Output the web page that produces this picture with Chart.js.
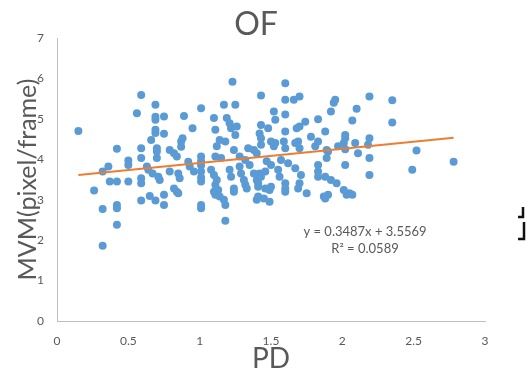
<!DOCTYPE html>
<html>
<head>
<meta charset="utf-8">
<script src="https://cdn.jsdelivr.net/npm/chart.js"></script>
<style>
  body { margin: 0; background: #fff; }
</style>
</head>
<body>
<canvas id="myChart" width="528" height="373"></canvas>
<script>
// PD (x) and MVM (y) for each sample
var pd = [
  0.15, 0.59, 0.69, 0.56, 0.69, 0.69, 0.75, 0.89, 1.01, 0.95,
  0.69, 0.69, 0.75, 0.66, 0.88, 0.87, 0.87, 0.42, 0.59, 0.70,
  0.70, 0.70, 0.79, 0.82, 0.84, 0.59, 0.50, 0.50, 0.36, 0.32,
  0.63, 0.64, 0.92, 0.93, 0.96, 1.01, 1.01, 1.01, 1.01, 1.01,
  1.01, 0.67, 0.71, 0.72, 0.79, 0.85, 0.86, 0.37, 0.42, 0.50,
  0.59, 0.59, 0.26, 0.82, 0.84, 0.65, 0.75, 0.59, 0.69, 0.75,
  0.32, 0.42, 0.42, 0.42, 0.32, 0.85, 1.01, 1.01, 1.23, 1.60,
  1.43, 1.60, 1.66, 1.70, 1.95, 1.94, 1.17, 1.25, 1.92, 1.52,
  1.60, 1.10, 1.19, 1.21, 1.22, 1.26, 1.25, 1.11, 1.43, 1.48,
  1.42, 1.53, 1.60, 1.68, 1.70, 1.74, 1.83, 1.88, 2.02, 2.01,
  1.78, 1.83, 1.81, 1.14, 1.18, 1.12, 1.24, 1.34, 1.38, 1.40,
  1.43, 1.43, 1.50, 1.52, 1.59, 1.60, 1.69, 1.70, 1.89, 1.89,
  1.97, 1.11, 1.15, 1.28, 1.32, 1.35, 1.47, 1.50, 1.57, 1.62,
  1.67, 1.83, 1.83, 1.83, 1.10, 1.12, 1.11, 1.21, 1.22, 1.28,
  1.29, 1.31, 1.38, 1.40, 1.46, 1.43, 1.55, 1.56, 1.60, 1.60,
  1.88, 1.92, 1.96, 2.02, 1.24, 1.41, 1.46, 1.50, 1.49, 1.75,
  2.01, 2.03, 1.11, 1.14, 1.41, 1.45, 1.10, 1.17, 1.18, 1.18,
  1.24, 1.40, 1.49, 1.60, 1.88, 1.90, 2.09, 2.11, 2.19, 2.18,
  2.19, 2.19, 1.71, 1.70, 1.69, 1.87, 2.05, 2.19, 2.35, 2.35,
  2.10, 2.07, 2.02, 2.02, 2.52, 2.49, 2.78, 2.07, 1.08, 1.32,
  1.33, 1.41, 1.13, 1.42, 1.53, 1.90, 1.67
];
var mvm = [
  4.70, 5.59, 5.35, 5.14, 5.05, 4.98, 5.06, 5.07, 5.26, 4.77,
  4.73, 4.65, 4.63, 4.48, 4.52, 4.44, 4.31, 4.26, 4.27, 4.27,
  4.19, 4.03, 4.23, 4.15, 4.07, 4.03, 3.97, 3.86, 3.82, 3.70,
  3.82, 3.74, 3.94, 3.82, 3.70, 4.07, 3.96, 3.85, 3.70, 3.55,
  3.45, 3.65, 3.57, 3.49, 3.70, 3.65, 3.53, 3.45, 3.45, 3.45,
  3.53, 3.41, 3.23, 3.28, 3.20, 3.09, 3.12, 2.98, 2.98, 2.87,
  2.77, 2.87, 2.79, 2.38, 1.86, 3.16, 2.87, 2.79, 5.92, 5.88,
  5.58, 5.47, 5.47, 5.55, 5.47, 5.40, 5.35, 5.35, 5.18, 5.18,
  5.11, 5.02, 5.02, 4.89, 4.77, 4.81, 4.60, 4.73, 4.85, 4.77,
  4.64, 4.98, 4.69, 4.77, 4.81, 4.93, 4.99, 4.69, 4.60, 4.40,
  4.56, 4.44, 4.32, 4.48, 4.44, 4.32, 4.23, 4.27, 4.23, 4.15,
  4.52, 4.36, 4.44, 4.32, 4.44, 4.27, 4.44, 4.27, 4.23, 4.03,
  4.32, 4.07, 4.03, 4.07, 3.98, 3.86, 3.95, 3.86, 3.98, 3.90,
  3.78, 3.86, 3.70, 3.57, 3.61, 3.49, 3.37, 3.74, 3.57, 3.82,
  3.65, 3.49, 3.65, 3.49, 3.70, 3.57, 3.74, 3.57, 3.41, 3.28,
  3.57, 3.49, 3.41, 3.86, 3.28, 3.32, 3.28, 3.32, 3.24, 3.16,
  3.24, 3.12, 3.12, 3.08, 3.08, 3.03, 3.20, 3.00, 2.87, 2.48,
  3.20, 3.00, 2.95, 3.20, 3.03, 3.12, 4.40, 4.15, 4.03, 4.36,
  4.52, 3.61, 3.61, 3.41, 3.28, 3.08, 3.16, 5.55, 5.46, 4.91,
  5.25, 4.96, 4.52, 4.25, 4.22, 3.74, 3.94, 3.12, 3.74, 3.37,
  3.28, 3.41, 3.24, 3.65, 4.40, 4.19, 4.40
];

// linear trendline, ends of the orange line
var trendPD = [0.15, 2.78];
var trendMVM = [3.61, 4.53];

var xTicks = [0, 0.5, 1, 1.5, 2, 2.5, 3];
var yTicks = [0, 1, 2, 3, 4, 5, 6, 7];

var chartTitle = 'OF';
var xTitle = 'PD';
var yTitle = 'MVM(pixel/frame)';
var equation = ['y = 0.3487x + 3.5569', 'R\u00B2 = 0.0589'];

var grey = '#595959';
var points = pd.map(function (x, i) { return { x: x, y: mvm[i] }; });
var trend = trendPD.map(function (x, i) { return { x: x, y: trendMVM[i] }; });

// title, trendline label and the small marks at the right edge
var extras = {
  id: 'extras',
  afterDraw: function (chart) {
    var ctx = chart.ctx;
    ctx.save();
    ctx.fillStyle = grey;
    ctx.textAlign = 'center';
    ctx.textBaseline = 'middle';
    ctx.font = '32px Lato';
    ctx.fillText(chartTitle, 256, 25);
    ctx.font = '13px Lato';
    ctx.fillText(equation[0], 365, 232);
    ctx.fillText(equation[1], 365, 249);

    ctx.strokeStyle = '#111';
    ctx.lineWidth = 2.5;
    ctx.beginPath();
    ctx.moveTo(523, 207); ctx.lineTo(523, 217); ctx.lineTo(518, 217);
    ctx.moveTo(524, 222); ctx.lineTo(524, 239); ctx.lineTo(518, 239);
    ctx.stroke();
    ctx.restore();
  }
};

const ctx = document.getElementById('myChart');

new Chart(ctx, {
  type: 'scatter',
  data: {
    datasets: [{
      label: 'Trend',
      type: 'line',
      data: trend,
      borderColor: '#ED7D31',
      borderWidth: 2,
      pointRadius: 0,
      fill: false,
      order: 0
    },
    {
      label: 'OF',
      data: points,
      backgroundColor: '#5B9BD5',
      pointRadius: 4,
      pointBorderWidth: 0,
      borderWidth: 0,
      order: 1
    }]
  },
  options: {
    responsive: false,
    devicePixelRatio: 1,
    animation: false,
    layout: { padding: { top: 38, right: 43, left: 0, bottom: 0 } },
    plugins: {
      legend: { display: false },
      tooltip: { enabled: false }
    },
    scales: {
      x: {
        type: 'linear',
        min: 0,
        max: 3,
        afterBuildTicks: function (s) { s.ticks = xTicks.map(function (v) { return { value: v }; }); },
        afterFit: function (s) { s.height = 52; },
        grid: { display: false, drawTicks: false },
        border: { display: true, color: '#BFBFBF', width: 1 },
        ticks: {
          color: grey,
          padding: 13,
          font: { family: 'Lato', size: 12 },
          callback: function (v) { return String(v); }
        },
        title: {
          display: true,
          text: xTitle,
          color: grey,
          padding: 0,
          font: { family: 'Lato', size: 28, lineHeight: 1 }
        }
      },
      y: {
        type: 'linear',
        min: 0,
        max: 7,
        afterBuildTicks: function (s) { s.ticks = yTicks.map(function (v) { return { value: v }; }); },
        afterFit: function (s) { s.width = 57; },
        grid: { display: false, drawTicks: false },
        border: { display: true, color: '#BFBFBF', width: 1 },
        ticks: {
          color: grey,
          padding: 13,
          font: { family: 'Lato', size: 12 },
          callback: function (v) { return String(v); }
        },
        title: {
          display: true,
          text: yTitle,
          color: grey,
          padding: { top: 13, bottom: 0 },
          font: { family: 'Lato', size: 25, lineHeight: 1.2 }
        }
      }
    }
  },
  plugins: [extras]
});
</script>
</body>
</html>
